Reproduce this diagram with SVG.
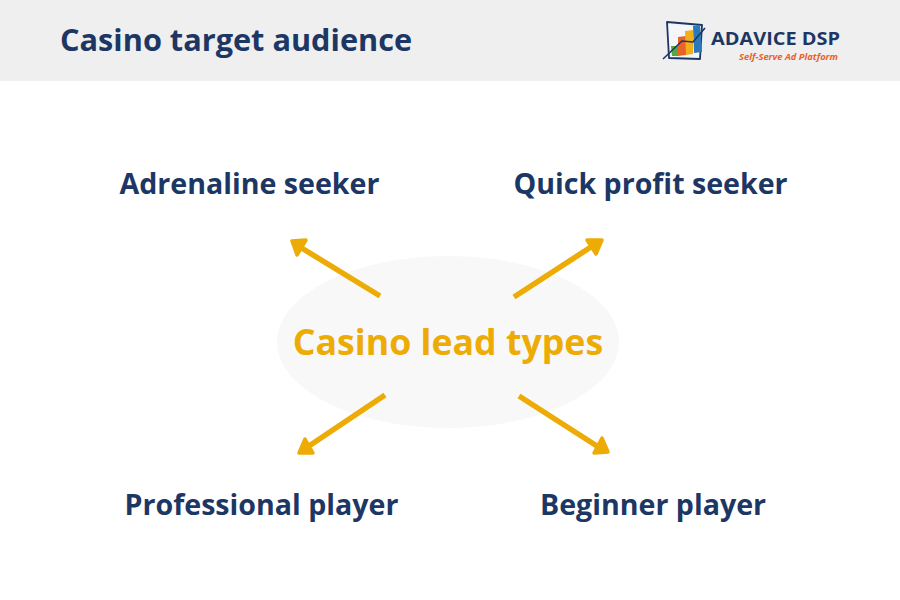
<svg xmlns="http://www.w3.org/2000/svg" width="900" height="600" viewBox="0 0 900 600">
<style>
text{font-family:"Open Sans","Noto Sans",sans-serif;font-weight:700}
.n{fill:#1d3764;font-size:28.6px;text-anchor:middle}
.c line{stroke:#edab05;stroke-width:5.500;fill:none}
.c path{fill:#edab05;stroke:#edab05;stroke-width:3.500;stroke-linejoin:round}
</style>
<rect width="900" height="600" fill="#fff"/>
<rect id="header" width="900" height="81" fill="#efefef"/>
<text x="60" y="51" fill="#1d3764" font-size="30.700">Casino target audience</text>
<g id="logo">
<path d="M667 22 L702 25 L700 59 L669 58 Z" fill="#f4f6fa" stroke="#1d3764" stroke-width="1.800" stroke-linejoin="round"/>
<path d="M671 46 L678 46 L678 56 L672 56 Z" fill="#57a83c"/>
<path d="M678 37 L686 36 L686 55 L678 56 Z" fill="#e8622a"/>
<path d="M685 31 L693 30 L693 54 L686 55 Z" fill="#f0b01c"/>
<path d="M693 26 L700 25 L702 52 L694 53 Z" fill="#2b79bd"/>
<path d="M663 59 L682 41 L693 42 L705 28" fill="none" stroke="#1d3764" stroke-width="1.600"/>
<text x="711" y="45" fill="#1d3764" font-size="18" textLength="129" lengthAdjust="spacingAndGlyphs">ADAVICE DSP</text>
<text x="739" y="60" fill="#e8622a" font-size="9" font-style="italic" textLength="99" lengthAdjust="spacingAndGlyphs">Self-Serve Ad Platform</text>
</g>
<g id="center">
<ellipse cx="448" cy="342" rx="171" ry="86" fill="#f8f8f8"/>
<text x="448" y="355" fill="#edab05" font-size="35.700" text-anchor="middle">Casino lead types</text>
</g>
<g id="adrenaline"><text class="n" x="249.500" y="194">Adrenaline seeker</text></g>
<g id="quick"><text class="n" x="650.500" y="194">Quick profit seeker</text></g>
<g id="professional"><text class="n" x="261.500" y="515">Professional player</text></g>
<g id="beginner"><text class="n" x="653" y="515">Beginner player</text></g>
<g id="connectors" class="c">
<line x1="380" y1="296" x2="300" y2="247"/>
<path d="M292 241 L306 240 L297 255 Z"/>
<line x1="514" y1="297" x2="594" y2="245"/>
<path d="M602 240 L587 240 L596 254 Z"/>
<line x1="385" y1="395" x2="306" y2="448"/>
<path d="M299 453 L313 453 L305 439 Z"/>
<line x1="519" y1="396" x2="600" y2="448"/>
<path d="M608 452 L594 453 L602 438 Z"/>
</g>
</svg>
